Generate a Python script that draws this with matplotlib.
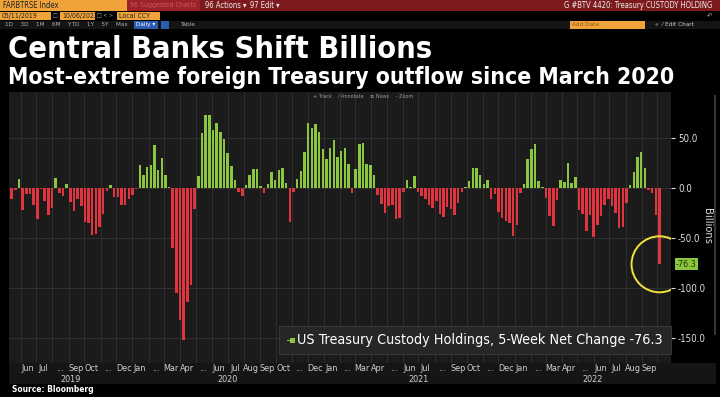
import matplotlib
matplotlib.use('Agg')
import matplotlib.pyplot as plt
import matplotlib.dates as mdates
import matplotlib.patches as mpatches
import pandas as pd
import numpy as np

# ---------------- data ----------------
start_date = '2019-05-15'
values = [
    -11, -2, 9, -22, -6, -6, -17, -31, -1, -13,
    -27, -20, 10, -5, -8, 4, -14, -23, -11, -18,
    -34, -35, -47, -46, -39, -26, -3, 3, -9, -9,
    -17, -17, -11, -7, -1, 23, 13, 21, 23, 43,
    18, 30, 13, 1, -60, -105, -132, -152, -114, -97,
    -21, 12, 55, 73, 73, 58, 65, 56, 49, 35,
    22, 8, -4, -8, 3, 13, 19, 19, 2, -5,
    4, 16, 8, 18, 20, 5, -34, -4, 9, 17,
    36, 65, 60, 64, 56, 39, 29, 40, 48, 31,
    37, 40, 24, -5, 19, 44, 45, 24, 23, 13,
    -7, -16, -25, -18, -17, -31, -30, -4, 8, 1,
    12, -4, -8, -11, -17, -20, -13, -26, -29, -19,
    -21, -27, -15, -4, 1, 7, 20, 20, 13, 4,
    8, -11, -6, -24, -30, -33, -35, -48, -37, -5,
    4, 29, 39, 44, 7, 1, -10, -28, -38, -12,
    8, 6, 25, 5, 11, -22, -26, -43, -27, -49,
    -37, -28, -17, -11, -18, -25, -40, -39, -15, 3,
    16, 31, 36, 20, -2, -5, -27, -76.3,
]
month_labels = [
    # (year, month, label)
    (2019, 6, 'Jun'), (2019, 7, 'Jul'), (2019, 8, '...'), (2019, 9, 'Sep'),
    (2019, 10, 'Oct'), (2019, 11, '...'), (2019, 12, 'Dec'),
    (2020, 1, 'Jan'), (2020, 2, '...'), (2020, 3, 'Mar'), (2020, 4, 'Apr'),
    (2020, 5, '...'), (2020, 6, 'Jun'), (2020, 7, 'Jul'), (2020, 8, 'Aug'),
    (2020, 9, 'Sep'), (2020, 10, 'Oct'), (2020, 11, '...'), (2020, 12, 'Dec'),
    (2021, 1, 'Jan'), (2021, 2, '...'), (2021, 3, 'Mar'), (2021, 4, 'Apr'),
    (2021, 5, '...'), (2021, 6, 'Jun'), (2021, 7, 'Jul'), (2021, 8, '...'),
    (2021, 9, 'Sep'), (2021, 10, 'Oct'), (2021, 11, '...'), (2021, 12, 'Dec'),
    (2022, 1, 'Jan'), (2022, 2, '...'), (2022, 3, 'Mar'), (2022, 4, 'Apr'),
    (2022, 5, '...'), (2022, 6, 'Jun'), (2022, 7, 'Jul'), (2022, 8, 'Aug'),
    (2022, 9, 'Sep'),
]
years = [2019, 2020, 2021, 2022]
y_ticks = [50, 0, -50, -100, -150]

title = 'Central Banks Shift Billions'
subtitle = 'Most-extreme foreign Treasury outflow since March 2020'
series_name = 'US Treasury Custody Holdings, 5-Week Net Change'

# ---------------- figure ----------------
W, H = 720, 397
fig = plt.figure(figsize=(W / 100, H / 100), dpi=100, facecolor='black')

GREEN = '#8cc63e'
RED = '#e0353f'
ORANGE = '#f0a33a'


def fx(x):
    return x / W


def fy(y):
    return 1 - y / H


def frect(x0, y0, x1, y1, color, z=1, ec='none', lw=0):
    r = mpatches.Rectangle((fx(x0), fy(y1)), (x1 - x0) / W, (y1 - y0) / H,
                           transform=fig.transFigure, facecolor=color,
                           edgecolor=ec, linewidth=lw, zorder=z)
    fig.add_artist(r)
    return r


def ftext(x, y, s, size, color='white', weight='normal', ha='left', va='center', **kw):
    kw.setdefault('zorder', 3)
    return fig.text(fx(x), fy(y), s, fontsize=size, color=color, fontweight=weight,
                    ha=ha, va=va, fontstretch='condensed', **kw)


def fit(t, target_w):
    r = fig.canvas.get_renderer()
    bb = t.get_window_extent(renderer=r)
    if bb.width > 0:
        t.set_fontsize(t.get_fontsize() * target_w / bb.width)


# header row 1
frect(0, 0, 720, 11, '#7d1a1d')
frect(0, 0, 127, 11, ORANGE)
ftext(3, 5.5, 'FARBTRSE Index', 5.5, color='#222222')
frect(127, 0, 200, 11, '#9b2228')
ftext(130, 5.5, '96 Suggested Charts', 5, color='#c85a64')
ftext(205, 5.5, '96 Actions \u25be', 5.5, color='#eeeeee')
ftext(250, 5.5, '97 Edit \u25be', 5.5, color='#eeeeee')
ftext(712, 5.5, 'G #BTV 4420: Treasury CUSTODY HOLDING', 5.5, color='#eeeeee', ha='right')

# header row 2
frect(0, 12, 51, 20, ORANGE)
ftext(2, 16, '05/11/2019', 5, color='#222222')
ftext(52.5, 16, '\u25a1', 4, color='#aaaaaa')
frect(60, 12, 95, 20, ORANGE)
ftext(62, 16, '10/06/2022', 5, color='#222222')
ftext(97, 16, '\u25a1 < >', 4, color='#aaaaaa')
frect(117, 12, 160, 20, ORANGE)
ftext(119, 16, 'Local CCY', 5, color='#222222')
ftext(712, 16, '\u21b6', 5, color='#aaaaaa', ha='right')

# header row 3
frect(0, 20.5, 720, 29, '#141414')
ftext(5, 24.8, '1D    3D    1M    6M    YTD    1Y    5Y    Max', 4.6, color='#b0b0b0')
frect(134, 21, 158, 28.5, '#2a5db0', z=2)
ftext(136, 24.8, 'Daily \u25be', 4.6, color='white')
frect(161, 21, 169, 28.5, '#2a5db0', z=2)
ftext(181, 24.8, 'Table', 4.6, color='#b0b0b0')
frect(570, 21, 645, 28.5, ORANGE, z=2)
ftext(572, 24.8, 'Add Data', 4.6, color='#8a5a10')
ftext(655, 24.8, '\u00ab  \u2044 Edit Chart', 4.6, color='#cccccc')

# titles
t1 = ftext(8, 50, title, 20, weight='bold')
t2 = ftext(8, 77.5, subtitle, 14, weight='bold')
fit(t1, 424)
fit(t2, 668)

# ---------------- main axes ----------------
left_px, right_px, top_px, bot_px = 9, 671, 92, 363
ax = fig.add_axes([fx(left_px), fy(bot_px), (right_px - left_px) / W, (bot_px - top_px) / H])
ax.set_facecolor('#1b1b1b')

dates = pd.date_range(start_date, periods=len(values), freq='7D')
colors = [GREEN if v >= 0 else RED for v in values]
ax.bar(dates, values, width=4.8, color=colors, zorder=2, linewidth=0)

x0 = dates[0] - pd.Timedelta(days=5.2)
x1 = dates[0] + pd.Timedelta(days=1261)
ax.set_xlim(x0, x1)
ax.set_ylim(-175, 96)

for d in pd.date_range('2019-06-01', '2022-10-01', freq='MS'):
    ax.axvline(d, color='#323232', lw=0.6, zorder=0)
for v in y_ticks:
    ax.axhline(v, color='#333333', lw=0.6, zorder=0)

for s in ax.spines.values():
    s.set_visible(False)
ax.tick_params(axis='x', length=0, labelbottom=False)
ax.yaxis.tick_right()
ax.set_yticks(y_ticks)
ax.set_yticklabels([f'{v:.1f}' for v in y_ticks])
ax.tick_params(axis='y', colors='#dddddd', labelsize=7, length=3, width=0.8, pad=2)
for tl in ax.get_yticklabels():
    tl.set_fontstretch('condensed')
for tk in ax.yaxis.get_major_ticks():
    tk.tick2line.set_color('#999999')

# highlight circle around the last value
last = values[-1]
ell = mpatches.Ellipse((mdates.date2num(dates[-1]), last), width=107, height=56,
                       fill=False, edgecolor='#f2e33b', lw=1.4, zorder=4)
ax.add_patch(ell)

# last-value tag
ax.annotate(f'{last:.1f}', xy=(1, last), xycoords=('axes fraction', 'data'),
            xytext=(3.5, 0), textcoords='offset points', va='center', ha='left',
            fontsize=6.5, color='#1e3300', fontstretch='condensed', annotation_clip=False,
            bbox=dict(boxstyle='square,pad=0.15', fc=GREEN, ec='none'))

# x-axis strip and labels
frect(left_px, bot_px, 716, 384, '#151515', z=-1)
xt = ax.get_xaxis_transform()
m_y = -(368.5 - bot_px) / (bot_px - top_px)
y_y = -(379.5 - bot_px) / (bot_px - top_px)
for (yy, mm, lab) in month_labels:
    ax.text(pd.Timestamp(yy, mm, 15), m_y, lab, transform=xt, ha='center', va='center',
            fontsize=6.5, color='#cfcfcf', clip_on=False, fontstretch='condensed')
for yy in years:
    a = max(pd.Timestamp(yy, 1, 1), x0)
    b = min(pd.Timestamp(yy, 12, 31), x1)
    mid = a + (b - a) / 2
    ax.text(mid, y_y, str(yy), transform=xt, ha='center', va='center',
            fontsize=6.5, color='#cfcfcf', clip_on=False, fontstretch='condensed')

# panel toolbar text
ftext(313, 97, '+ Track    \u2044 Annotate    \u2261 News    - Zoom', 4.0, color='#9a9a9a', zorder=6)

# right side
ftext(707, 226, 'Billions', 8, color='#dddddd', rotation=270, ha='center')
frect(714, 95, 716, 335, '#363636', z=1)

# legend
frect(279, 326, 671, 354, '#262626', z=5, ec='#3c3c3c', lw=0.6)
frect(286.5, 340, 290, 341, GREEN, z=6)
frect(290, 337.5, 295, 342.5, GREEN, z=6)
t3 = ftext(297, 340, f'{series_name} {last:.1f}', 10, color='white', zorder=7)
fit(t3, 365)

# source
ftext(12, 389, 'Source: Bloomberg', 6, weight='bold')

fig.savefig('out.png', dpi=100, facecolor='black')
